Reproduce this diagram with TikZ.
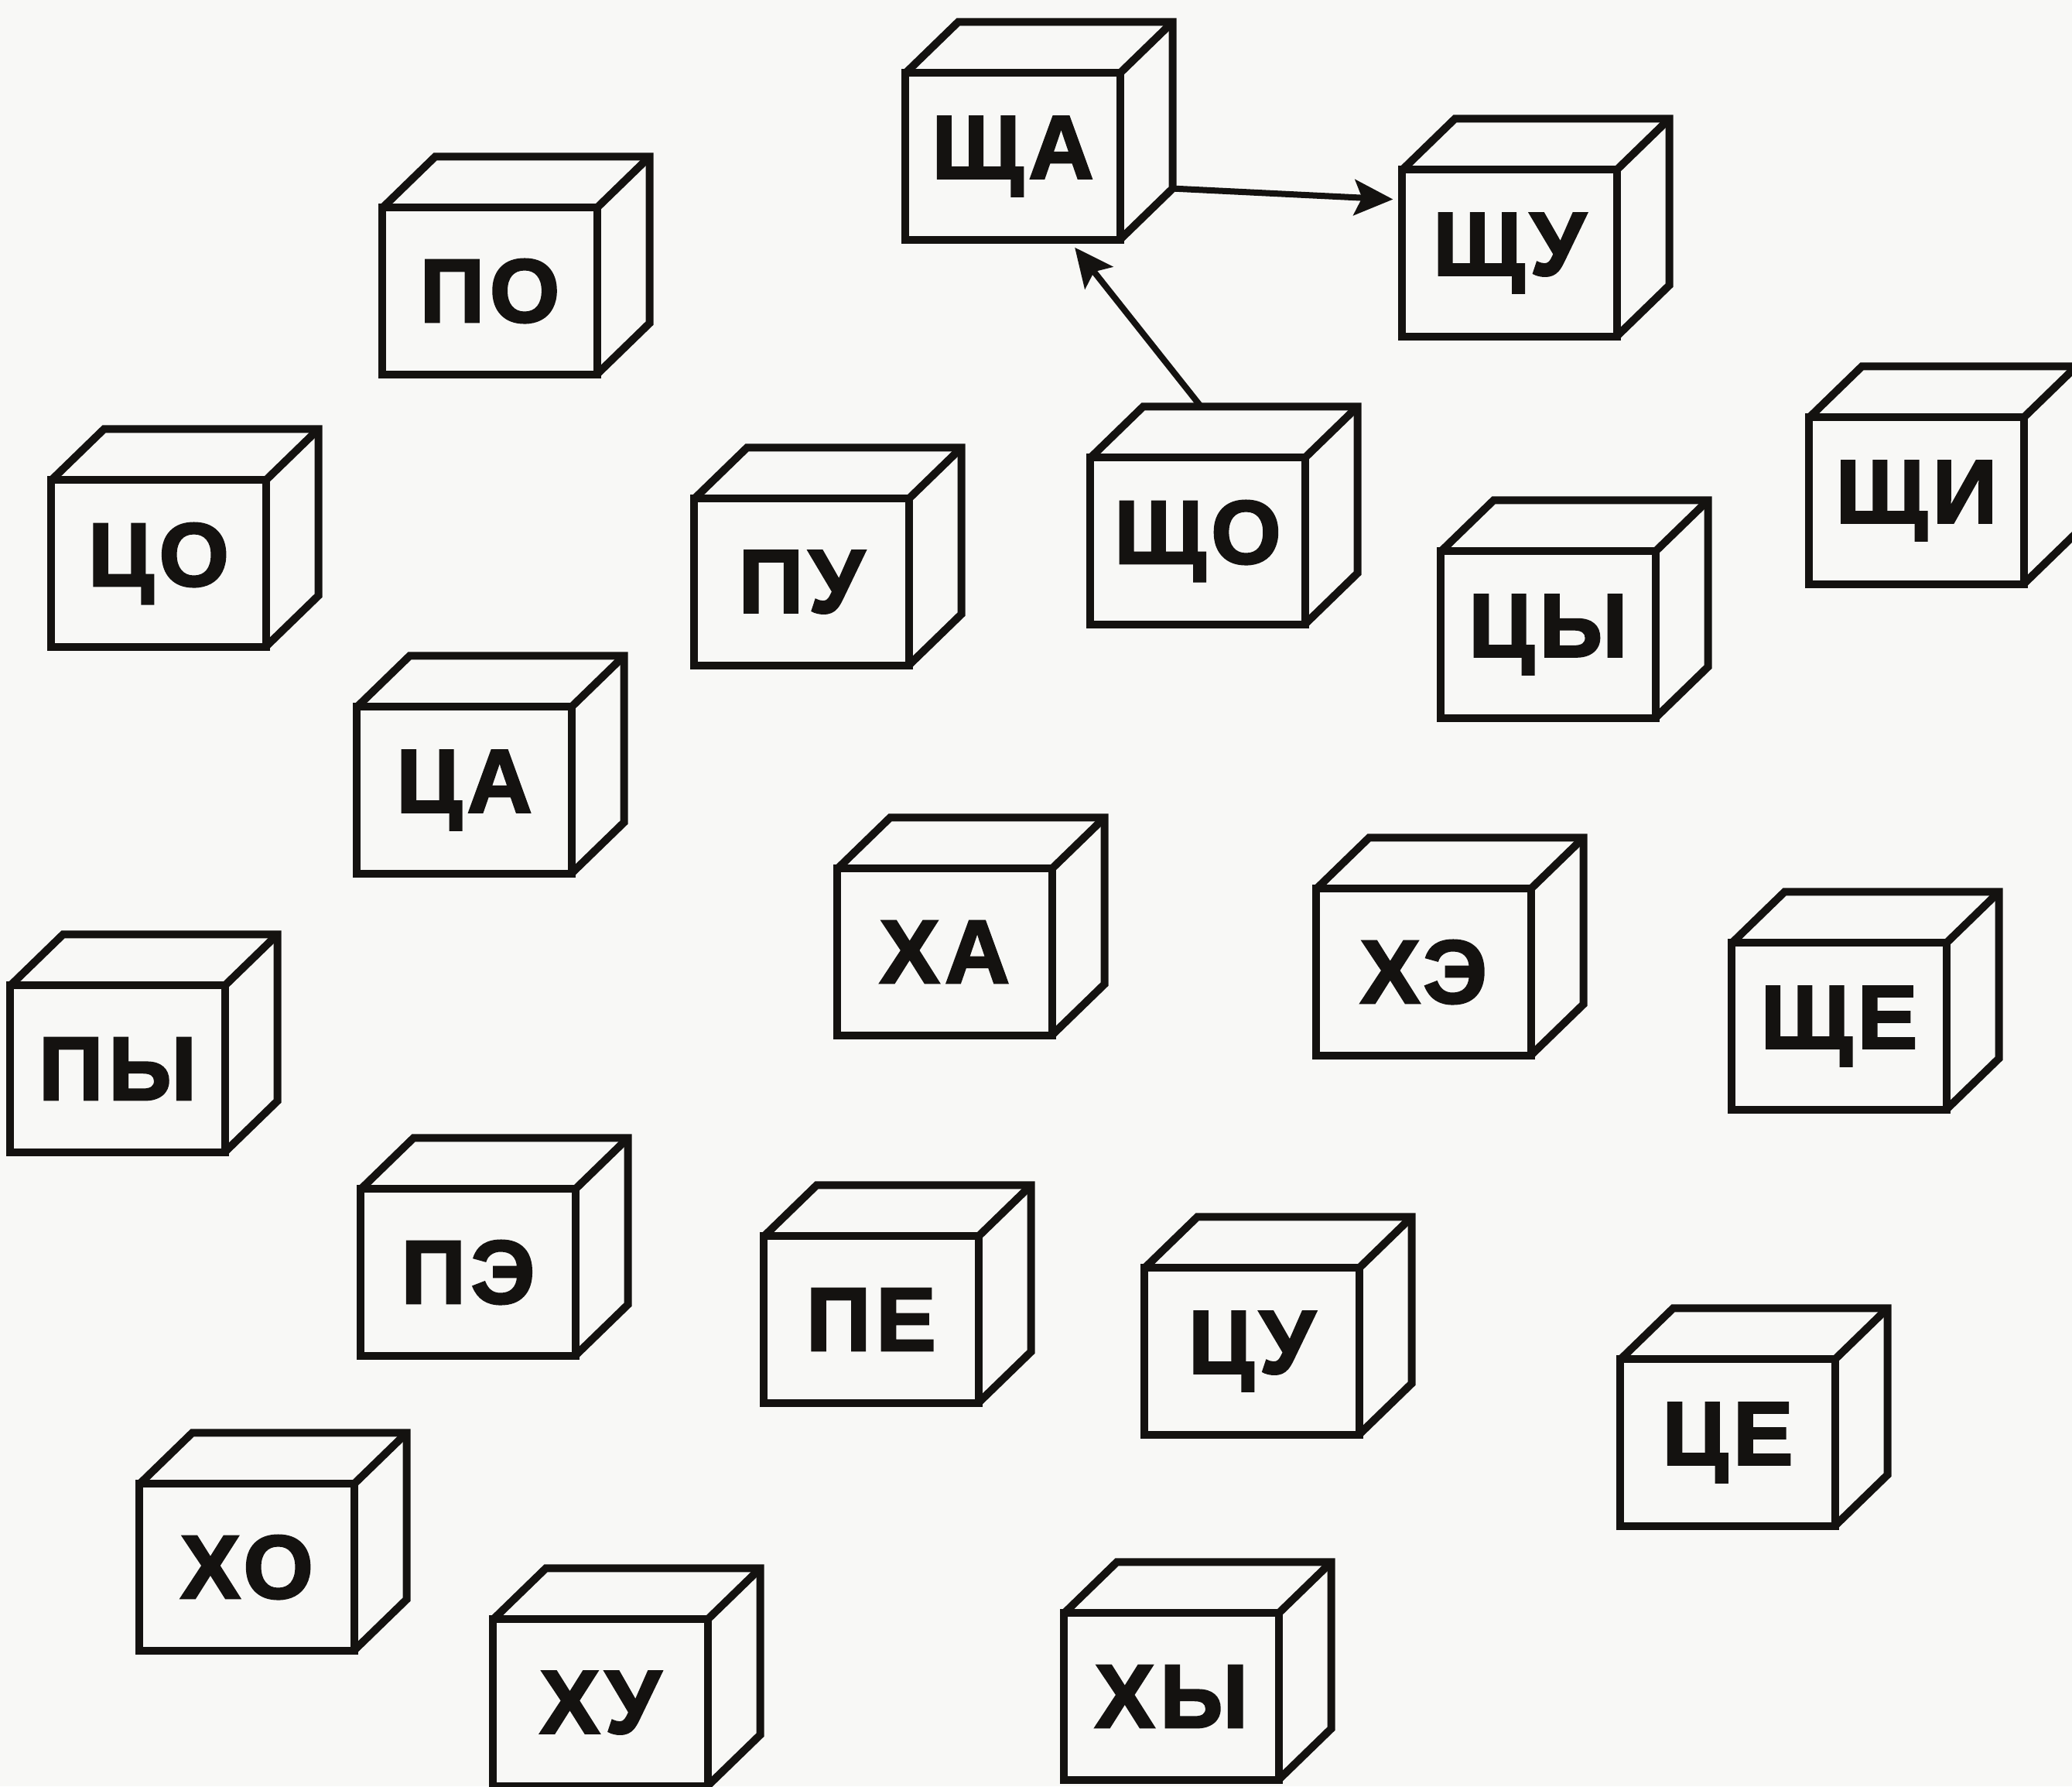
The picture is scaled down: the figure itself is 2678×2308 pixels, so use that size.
\documentclass[tikz,border=0pt]{standalone}
\usepackage{fontspec}
\setmainfont{Liberation Sans}[BoldFont={Liberation Sans Bold}, BoldFeatures={FakeBold=2.5, LetterSpace=6}]
\usetikzlibrary{calc,arrows.meta}
\definecolor{paper}{RGB}{248,248,246}
\definecolor{ink}{RGB}{20,18,16}
\tikzset{
  face/.style={draw=ink, fill=paper, line width=0.1cm, line join=miter,
    minimum width=2.77cm, minimum height=2.15cm, inner sep=0pt, outer sep=0pt,
    text=ink, font=\fontsize{33}{33}\selectfont\bfseries},
  edge/.style={draw=ink, line width=0.1cm, line join=miter},
  arrowline/.style={draw=ink, line width=0.08cm,
    -{Stealth[length=0.5cm, width=0.46cm, inset=0.1cm]}}
}
\newcommand\cubeat[4]{%
  \node[face] (#1) at (#2,#3) {#4};
  \draw[edge] (#1.north west) -- ++(68,-66) coordinate (#1-btl)
     -- ($(#1.north east)+(68,-66)$) coordinate (#1-btr)
     -- ($(#1.south east)+(68,-66)$) coordinate (#1-bbr)
     -- (#1.south east);
  \draw[edge] (#1.north east) -- (#1-btr);
}
\begin{document}
\begin{tikzpicture}[x=0.01cm, y=-0.01cm]
\fill[paper] (0,0) rectangle (2678,2308);
\useasboundingbox (0,0) rectangle (2678,2308);
\cubeat{shcha}{1309}{202}{ЩА}
\cubeat{shchu}{1951}{327}{ЩУ}
\cubeat{po}{633}{376}{ПО}
\cubeat{tso}{205}{728}{ЦО}
\cubeat{pu}{1036}{752}{ПУ}
\cubeat{shcho}{1548}{699}{ЩО}
\cubeat{tsy}{2001}{820}{ЦЫ}
\cubeat{shchi}{2477}{647}{ЩИ}
\cubeat{tsa}{600}{1021}{ЦА}
\cubeat{kha}{1221}{1230}{ХА}
\cubeat{khe}{1840}{1256}{ХЭ}
\cubeat{shche}{2377}{1326}{ЩЕ}
\cubeat{py}{152}{1381}{ПЫ}
\cubeat{pe}{605}{1644}{ПЭ}
\cubeat{pye}{1126}{1705}{ПЕ}
\cubeat{tsu}{1618}{1746}{ЦУ}
\cubeat{tse}{2233}{1864}{ЦЕ}
\cubeat{kho}{319}{2025}{ХО}
\cubeat{khu}{776}{2200}{ХУ}
\cubeat{khy}{1514}{2192}{ХЫ}
\draw[arrowline, shorten >=0.12cm] (shcha-bbr) -- ($(shchu.north west)!0.18!(shchu.south west)$);
\draw[arrowline, shorten >=0.13cm] ($(shcho-btl)!0.27!(shcho-btr)$) -- ($(shcha.south west)!0.76!(shcha.south east)$);
\end{tikzpicture}
\end{document}
